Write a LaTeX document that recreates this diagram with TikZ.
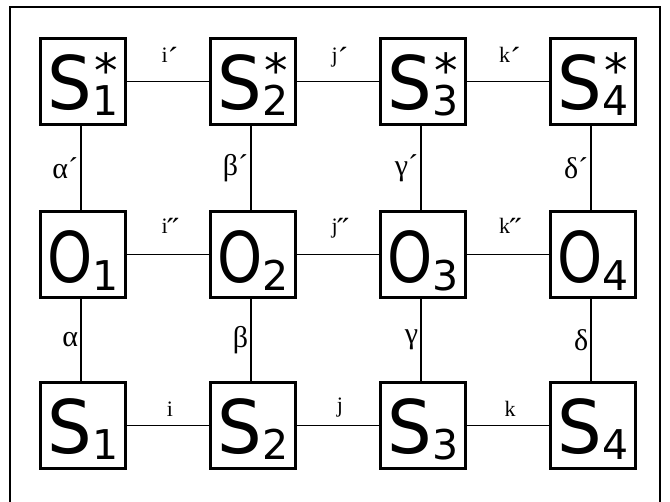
\documentclass[tikz,border=0pt]{standalone}
\usepackage{graphicx}
\usepackage{fontspec}
\newfontfamily\boxfont{DejaVu Sans}
\newfontfamily\lblfont{Liberation Serif}
% #1 glyph, #2 subscript, #3 superscript, #4 size, #5 xscale, #6 sub drop
\newcommand{\symb}[6]{{\boxfont\scalebox{#5}[1]{\fontsize{#4}{#4}\selectfont #1}\makebox[0pt][l]{\hspace{2pt}\raisebox{22pt}{\fontsize{47}{47}\selectfont #3}}\raisebox{-#6}{\fontsize{41}{41}\selectfont #2}}}
\newcommand{\sS}[2]{\symb{S}{#1}{#2}{74}{0.95}{6pt}}
\newcommand{\sO}[1]{\symb{O}{#1}{}{70}{0.82}{8pt}}
\newcommand{\gr}[1]{{\fontsize{30}{30}\selectfont #1}}
\newcommand{\pr}[1]{\raisebox{-7pt}{\fontsize{32}{32}\selectfont #1}}
\begin{document}
\begin{tikzpicture}[x=1pt,y=-1pt,
  box/.style={draw, line width=2.1pt, minimum width=85pt, minimum height=86pt, inner sep=0pt, text height=57pt, text depth=0pt},
  conn/.style={line width=1.6pt},
  lab/.style={font=\lblfont\fontsize{22}{22}\selectfont, inner sep=2pt},
  hlabt/.style={lab, above=9pt, xshift=2pt},
  hlabm/.style={lab, above=11pt, xshift=2pt},
  hlabb/.style={lab, above=6pt, xshift=2pt},
  vlab/.style={lab, left=0pt}]
\useasboundingbox (0,0) rectangle (670,502);
\draw[line width=1.7pt] (10,504) -- (10,7) -- (660,7) -- (660,504);
% top row
\node[box] (s1s) at (83,81.5) {\sS{1}{*}};
\node[box] (s2s) at (253,81.5) {\sS{2}{*}};
\node[box] (s3s) at (423,81.5) {\sS{3}{*}};
\node[box] (s4s) at (593,81.5) {\sS{4}{*}};
% middle row
\node[box] (o1) at (83,254.5) {\sO{1}};
\node[box] (o2) at (253,254.5) {\sO{2}};
\node[box] (o3) at (423,254.5) {\sO{3}};
\node[box] (o4) at (593,254.5) {\sO{4}};
% bottom row
\node[box] (s1) at (83,425.5) {\sS{1}{}};
\node[box] (s2) at (253,425.5) {\sS{2}{}};
\node[box] (s3) at (423,425.5) {\sS{3}{}};
\node[box] (s4) at (593,425.5) {\sS{4}{}};
% horizontal connectors
\draw[conn] (s1s) -- node[hlabt]{i\pr{´}} (s2s);
\draw[conn] (s2s) -- node[hlabt]{j\pr{´}} (s3s);
\draw[conn] (s3s) -- node[hlabt]{k\pr{´}} (s4s);
\draw[conn] (o1) -- node[hlabm]{i\pr{˝}} (o2);
\draw[conn] (o2) -- node[hlabm]{j\pr{˝}} (o3);
\draw[conn] (o3) -- node[hlabm]{k\pr{˝}} (o4);
\draw[conn] (s1) -- node[hlabb]{i} (s2);
\draw[conn] (s2) -- node[hlabb]{j} (s3);
\draw[conn] (s3) -- node[hlabb]{k} (s4);
% vertical connectors
\draw[conn] ([xshift=-2pt]s1s.south) -- node[vlab]{\gr{α´}} ([xshift=-2pt]o1.north);
\draw[conn] ([xshift=-2pt]s2s.south) -- node[vlab]{\gr{β´}} ([xshift=-2pt]o2.north);
\draw[conn] ([xshift=-2pt]s3s.south) -- node[vlab]{\gr{γ´}} ([xshift=-2pt]o3.north);
\draw[conn] ([xshift=-2pt]s4s.south) -- node[vlab]{\gr{δ´}} ([xshift=-2pt]o4.north);
\draw[conn] ([xshift=-2pt]o1.south) -- node[vlab]{\gr{α}} ([xshift=-2pt]s1.north);
\draw[conn] ([xshift=-2pt]o2.south) -- node[vlab]{\gr{β}} ([xshift=-2pt]s2.north);
\draw[conn] ([xshift=-2pt]o3.south) -- node[vlab]{\gr{γ}} ([xshift=-2pt]s3.north);
\draw[conn] ([xshift=-2pt]o4.south) -- node[vlab]{\gr{δ}} ([xshift=-2pt]s4.north);
\end{tikzpicture}
\end{document}
